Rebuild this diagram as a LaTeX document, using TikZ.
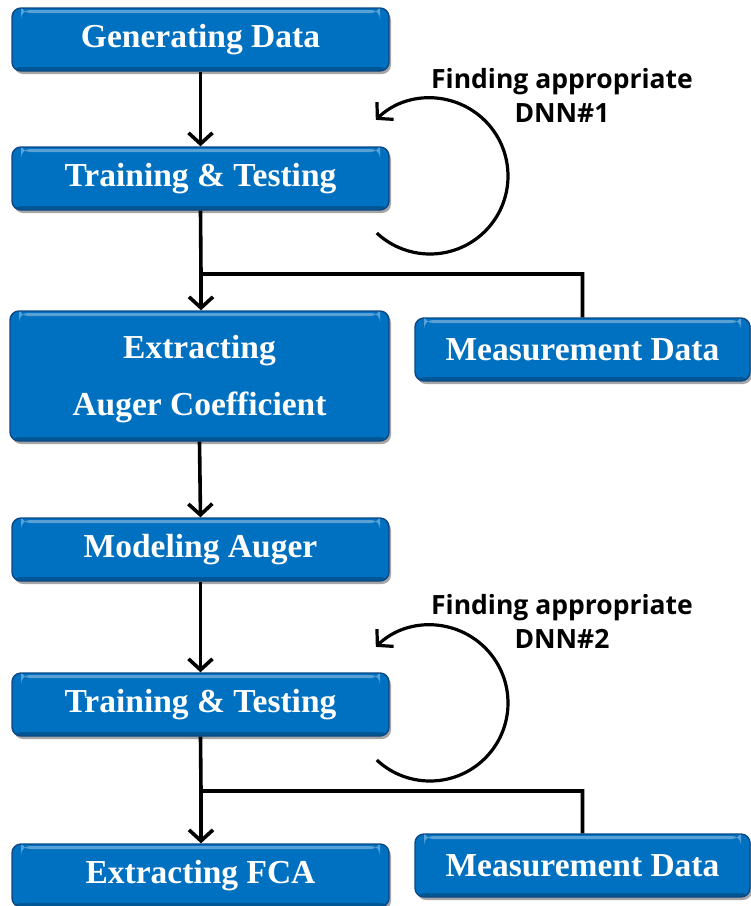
\documentclass[tikz,border=0pt]{standalone}
\usepackage{fontspec}
\setmainfont{Liberation Serif}
\newfontfamily\notefont{Open Sans}
\usetikzlibrary{arrows.meta,shadows}
\definecolor{boxblue}{RGB}{0,112,192}
\definecolor{boxedge}{RGB}{12,72,132}
\tikzset{
  stagebox/.style={rounded corners=9pt, fill=boxblue, draw=boxedge, line width=1.4pt,
    text=white, font=\bfseries\fontsize{33.5}{57}\selectfont, align=center, inner sep=0pt,
    drop shadow={shadow xshift=2pt, shadow yshift=-3pt, opacity=0.35, fill=black},
    path picture={
      \fill[white, opacity=0.35]
        ([xshift=9pt,yshift=-2pt]path picture bounding box.north west) rectangle
        ([xshift=-9pt,yshift=-5pt]path picture bounding box.north east);
      \fill[black, opacity=0.22]
        ([yshift=4pt]path picture bounding box.south west) rectangle
        (path picture bounding box.south east);}},
  flow/.style={line width=3.6pt, -{Straight Barb[length=11pt, width=24pt]}},
  link/.style={line width=3.6pt},
  loopback/.style={line width=3.2pt, -{Straight Barb[length=11pt, width=24pt]}},
  note/.style={font=\notefont\bfseries\fontsize{26.5}{34}\selectfont, align=center, inner sep=0pt}
}
\begin{document}
\begin{tikzpicture}[x=1pt, y=1pt]
\useasboundingbox (0,0) rectangle (751,-906);

% main flow boxes
\node[stagebox, minimum width=377pt, minimum height=63pt] (gen)    at (200.5,-39.5)  {Generating Data};
\node[stagebox, minimum width=377pt, minimum height=63pt] (train1) at (200.5,-178.5) {Training \& Testing};
\node[stagebox, minimum width=379pt, minimum height=130pt] (aug)   at (199.5,-376)   {\rule{0pt}{30pt}Extracting\\Auger Coefficient};
\node[stagebox, minimum width=335pt, minimum height=63pt] (meas1)  at (582.5,-349.5) {Measurement Data};
\node[stagebox, minimum width=377pt, minimum height=63pt] (model)  at (200.5,-549.5) {Modeling Auger};
\node[stagebox, minimum width=377pt, minimum height=63pt] (train2) at (200.5,-704.5) {Training \& Testing};
\node[stagebox, minimum width=377pt, minimum height=63pt] (fca)    at (200.5,-875.5) {Extracting FCA};
\node[stagebox, minimum width=335pt, minimum height=63pt] (meas2)  at (582.5,-865.5) {Measurement Data};

% loop labels
\node[note] (lab1) at (562,-95) {Finding appropriate\\DNN\#1};
\node[note] (lab2) at (562,-621) {Finding appropriate\\DNN\#2};

% junctions where measurement data joins the flow
\coordinate (j1) at (201,-274);
\coordinate (j2) at (201,-791);

% connectors
\draw[flow] (gen.south) -- (train1.north);
\draw[link] (train1.south) -- (j1) -| (meas1.north);
\draw[flow] (j1) -- (j1 |- aug.north);
\draw[flow] (aug.south) -- (model.north);
\draw[flow] (model.south) -- (train2.north);
\draw[link] (train2.south) -- (j2) -| (meas2.north);
\draw[flow] (j2) -- (j2 |- fca.north);

% iteration loops
\coordinate (c1) at (430,-176);
\coordinate (c2) at (430,-703);
\draw[loopback] (c1) ++(227:78pt) arc[start angle=227, end angle=494, radius=78pt];
\draw[loopback] (c2) ++(227:78pt) arc[start angle=227, end angle=494, radius=78pt];
\end{tikzpicture}
\end{document}
